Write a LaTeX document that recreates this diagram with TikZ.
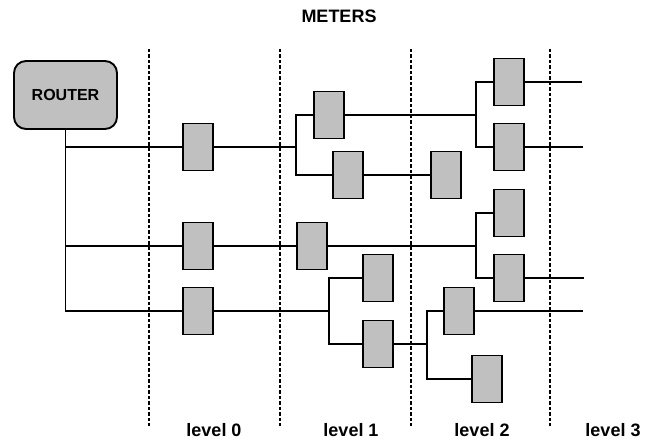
\documentclass[tikz,border=0pt]{standalone}
\usepackage{fontspec}
\setmainfont{Liberation Sans}
\usepackage{tikz}
\usetikzlibrary{positioning}
\definecolor{metergray}{RGB}{192,192,192}
\tikzstyle{mt} = [rectangle, draw, fill=metergray, line width=1.9pt,
    minimum width=30.5pt, minimum height=47pt, inner sep=0pt]
\tikzstyle{rt} = [rectangle, draw, fill=metergray, rounded corners=12pt, line width=1.9pt,
    minimum width=103pt, minimum height=68pt, font=\fontsize{16}{18}\selectfont\bfseries]
\tikzstyle{lbl} = [font=\fontsize{18}{20}\selectfont\bfseries, inner sep=0pt]

\begin{document}
\begin{tikzpicture}[x=1pt,y=-1pt,line width=1.6pt]
  \useasboundingbox (0,0) rectangle (645,446);

  % level borders
  \foreach \x in {149,280,411,550}
    \draw[line width=1.5pt, dash pattern=on 3.5pt off 2pt] (\x,49) -- (\x,426);

  \node[rt]           (0) at (65.5,95) {ROUTER};
  \node[mt]           (1) at (198,147) {};
  \node[mt]           (2) at (198,246) {};
  \node[mt]           (3) at (198,311) {};
  \node[mt]           (4) at (329,115) {};
  \node[mt]           (5) at (348,175) {};
  \node[mt]           (6) at (312,246) {};
  \node[mt]           (7) at (378,278) {};
  \node[mt]           (8) at (378,344) {};
  \node[mt]           (9) at (446,175) {};
  \node[mt]          (10) at (459,311) {};
  \node[mt]          (11) at (487,379) {};
  \node[mt]          (12) at (509,82) {};
  \node[mt]          (13) at (509,147) {};
  \node[mt]          (14) at (509,213) {};
  \node[mt]          (15) at (509,278) {};

  \coordinate (j1) at (296,147);
  \coordinate (j2) at (476,115);
  \coordinate (j3) at (476,246);
  \coordinate (j4) at (329,311);
  \coordinate (j5) at (427,344);
  \coordinate (e1) at (582,82);
  \coordinate (e2) at (583,147);
  \coordinate (e3) at (584,278);
  \coordinate (e4) at (583,311);

  \draw (0) |- (1);
  \draw (0) |- (2);
  \draw (0) |- (3);
  \draw (1) -- (j1) |- (4);
  \draw (j1) |- (5);
  \draw (5) -- (9);
  \draw (4) -- (j2) |- (12);
  \draw (j2) |- (13);
  \draw (2) -- (6) -- (j3) |- (14);
  \draw (j3) |- (15);
  \draw (3) -- (j4) |- (7);
  \draw (j4) |- (8);
  \draw (8) -- (j5) |- (10);
  \draw (j5) |- (11);
  \draw (12) -- (e1);
  \draw (13) -- (e2);
  \draw (15) -- (e3);
  \draw (10) -- (e4);

  \node[lbl] (t) at (339,16) {METERS};
  \foreach \x/\n in {214/0,351/1,482/2,613/3}
    \node[lbl] (l\n) at (\x,430) {level \n};
\end{tikzpicture}
\end{document}
